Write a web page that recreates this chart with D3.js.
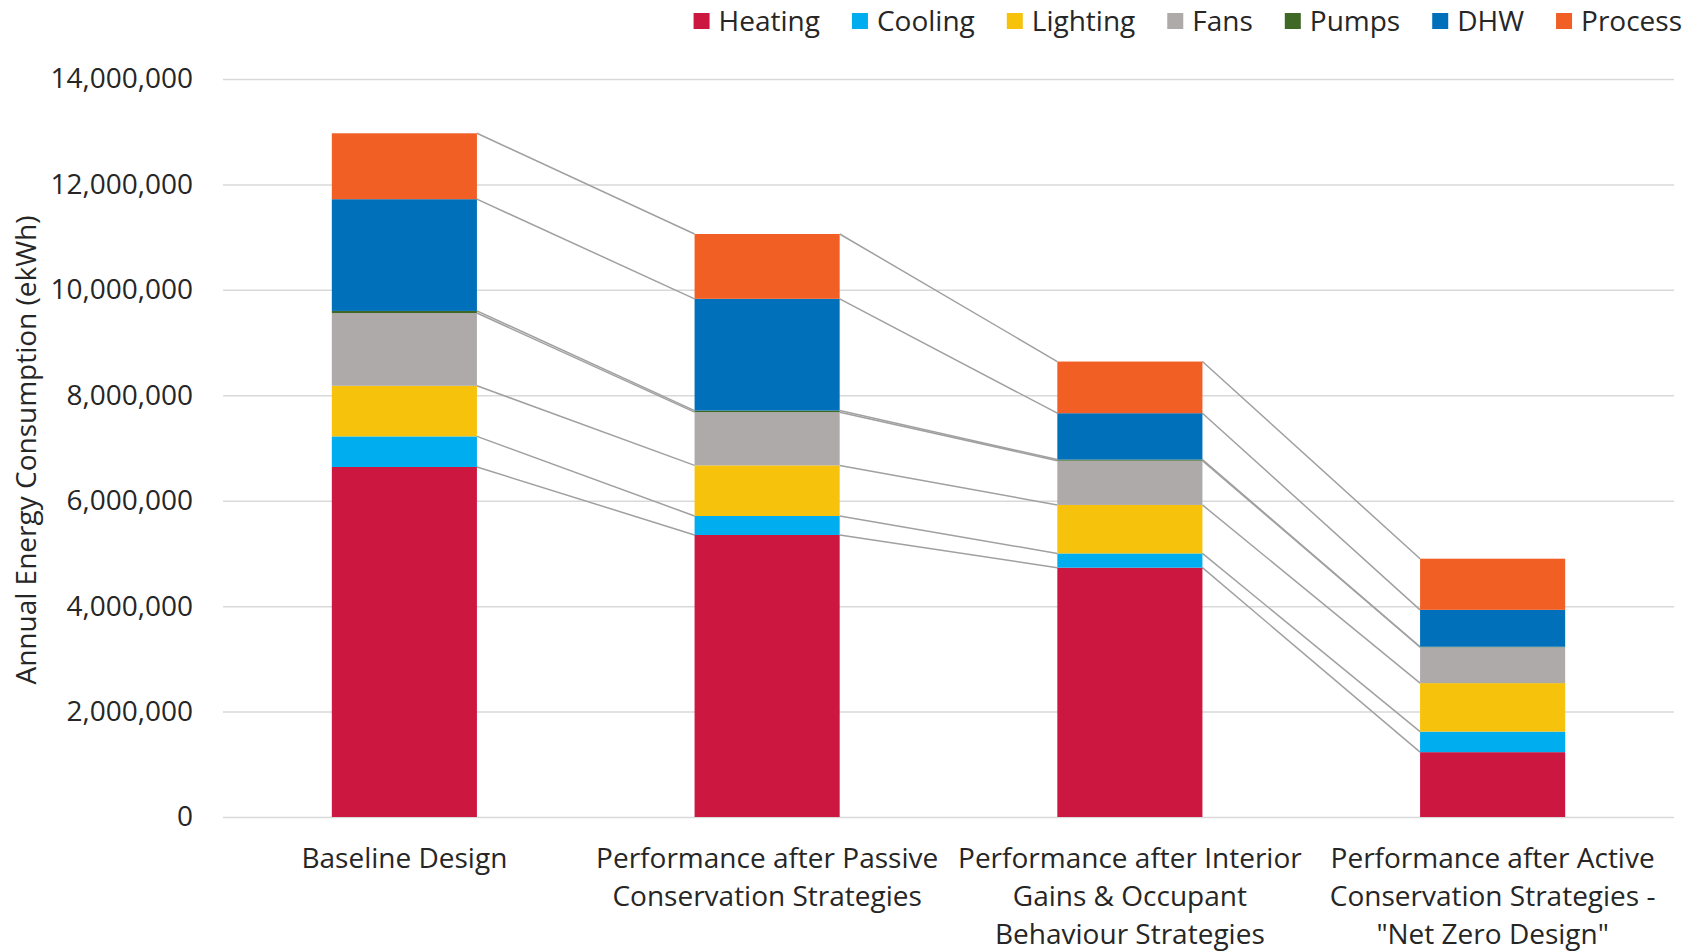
<!DOCTYPE html>
<html>
<head>
<meta charset="utf-8">
<script src="https://cdnjs.cloudflare.com/ajax/libs/d3/7.8.5/d3.min.js"></script>
<style>
  body { margin: 0; background: #fff; }
  svg { display: block; }
  svg text { font-family: "Open Sans", sans-serif; }
</style>
</head>
<body>
<svg id="chart" width="1704" height="951"></svg>
<script>
// categories (line breaks as in the original axis labels)
const categories = [
  ["Baseline Design"],
  ["Performance after Passive", "Conservation Strategies"],
  ["Performance after Interior", "Gains & Occupant", "Behaviour Strategies"],
  ["Performance after Active", "Conservation Strategies -", "\"Net Zero Design\""]
];
const seriesNames = ["Heating", "Cooling", "Lighting", "Fans", "Pumps", "DHW", "Process"];
const seriesColors = ["#cc1740", "#00aeef", "#f7c20c", "#aeaaaa", "#3f6826", "#0070ba", "#f15f24"];

// values (ekWh)
const heating  = [6640000, 5350000, 4730000, 1230000];
const cooling  = [580000, 360000, 270000, 390000];
const lighting = [960000, 960000, 920000, 920000];
const fans     = [1380000, 1010000, 840000, 680000];
const pumps    = [40000, 30000, 20000, 10000];
const dhw      = [2120000, 2120000, 880000, 700000];
const process  = [1250000, 1230000, 980000, 970000];

const yTicks = [0, 2000000, 4000000, 6000000, 8000000, 10000000, 12000000, 14000000];

// table for d3.stack
const seriesValues = [heating, cooling, lighting, fans, pumps, dhw, process];
const table = categories.map((c, i) => {
  const row = { key: i };
  seriesNames.forEach((s, j) => { row[s] = seriesValues[j][i]; });
  return row;
});

const FONT = 28;
const svg = d3.select("#chart");
const margin = { left: 223, right: 30, top: 79, bottom: 134 };
const width = 1704 - margin.left - margin.right;
const height = 951 - margin.top - margin.bottom;

const g = svg.append("g").attr("transform", `translate(${margin.left},${margin.top})`);

const x = d3.scaleBand()
  .domain(d3.range(categories.length))
  .range([0, width])
  .paddingInner(0.6)
  .paddingOuter(0.3);

const y = d3.scaleLinear().domain([0, 14000000]).range([height, 0]);

// gridlines + y labels
const yAxis = g.append("g")
  .call(d3.axisLeft(y).tickValues(yTicks).tickFormat(d3.format(",")).tickSize(-width).tickPadding(30));
yAxis.select(".domain").remove();
yAxis.selectAll("line").attr("stroke", "#d9d9d9").attr("stroke-width", 1.5);
yAxis.selectAll("text").attr("fill", "#262626").style("font-size", FONT + "px");

// x labels
const xAxis = g.append("g")
  .attr("transform", `translate(0,${height})`)
  .call(d3.axisBottom(x).tickSize(0).tickFormat(""));
xAxis.select(".domain").remove();
xAxis.selectAll(".tick text").remove();
xAxis.selectAll(".tick")
  .append("text")
  .attr("fill", "#262626")
  .attr("text-anchor", "middle")
  .style("font-size", FONT + "px")
  .selectAll("tspan")
  .data(d => categories[d])
  .join("tspan")
  .attr("x", 0)
  .attr("y", (d, i) => 41 + i * 38.1)
  .attr("dy", "0.35em")
  .text(d => d);

const stacked = d3.stack().keys(seriesNames)(table);

// series connector lines (from right edge of one bar to left edge of next)
const links = [];
stacked.forEach(layer => {
  for (let i = 0; i < layer.length - 1; i++) {
    links.push({ x1: x(i) + x.bandwidth(), y1: y(layer[i][1]), x2: x(i + 1), y2: y(layer[i + 1][1]) });
  }
});
g.append("g").selectAll("line")
  .data(links)
  .join("line")
  .attr("x1", d => d.x1).attr("y1", d => d.y1)
  .attr("x2", d => d.x2).attr("y2", d => d.y2)
  .attr("stroke", "#a0a0a0")
  .attr("stroke-width", 1.5);

// bars
g.append("g").selectAll("g")
  .data(stacked)
  .join("g")
  .attr("fill", (d, i) => seriesColors[i])
  .selectAll("rect")
  .data(d => d)
  .join("rect")
  .attr("x", (d, i) => x(i))
  .attr("width", x.bandwidth())
  .attr("y", d => y(d[1]))
  .attr("height", d => y(d[0]) - y(d[1]));

// y axis title
svg.append("text")
  .attr("transform", "translate(26,450) rotate(-90)")
  .attr("text-anchor", "middle")
  .attr("dy", "0.35em")
  .attr("fill", "#262626")
  .style("font-size", FONT + "px")
  .text("Annual Energy Consumption (ekWh)");

// legend, right aligned at the top
const legend = svg.append("g").attr("transform", "translate(0,21)");
const items = legend.selectAll("g")
  .data(seriesNames)
  .join("g");
items.append("rect")
  .attr("y", -8).attr("width", 16).attr("height", 16)
  .attr("fill", (d, i) => seriesColors[i]);
items.append("text")
  .attr("x", 25)
  .attr("dy", "0.35em")
  .attr("fill", "#262626")
  .style("font-size", FONT + "px")
  .text(d => d);

let widths = [];
items.each(function () { widths.push(25 + this.querySelector("text").getComputedTextLength()); });
const gap = 32;
const total = d3.sum(widths) + gap * (widths.length - 1);
let pos = 1682 - total;
items.attr("transform", (d, i) => {
  const t = `translate(${pos},0)`;
  pos += widths[i] + gap;
  return t;
});
</script>
</body>
</html>
